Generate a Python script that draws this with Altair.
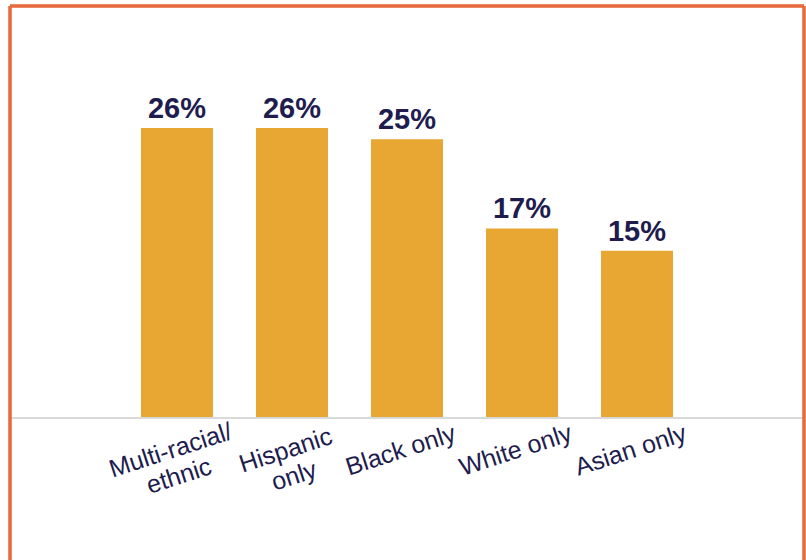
import altair as alt
import pandas as pd

categories = ["Multi-racial/ethnic", "Hispanic only", "Black only", "White only", "Asian only"]
axis_labels = ["Multi-racial/\nethnic", "Hispanic\nonly", "Black only", "White only", "Asian only"]
values = [26, 26, 25, 17, 15]
value_labels = ["26%", "26%", "25%", "17%", "15%"]

df = pd.DataFrame({
    "category": categories,
    "label": axis_labels,
    "value": values,
    "value_label": value_labels,
    "zero": [0] * len(categories),
})

W, H = 794, 554
BAR = "#E8A633"
NAVY = "#211C4E"
BORDER = "#E8693E"

x = alt.X("category:N", sort=categories, axis=None,
          scale=alt.Scale(paddingInner=0.374, paddingOuter=0, range=[131, 663]))
y = alt.Y("value:Q", axis=None,
          scale=alt.Scale(domain=[-12.73, 36.94], nice=False))
y0 = alt.Y("zero:Q", axis=None)

base = alt.Chart(df)

bars = base.mark_bar(color=BAR).encode(x=x, y=y)

vals = base.mark_text(
    font="Liberation Sans", fontSize=29, fontWeight="bold", color=NAVY,
    baseline="alphabetic", align="center", dy=-10
).encode(x=x, y=y, text="value_label:N")

baseline = base.mark_rule(color="#D9D9D9", strokeWidth=2).encode(
    x=alt.value(0), x2=alt.value(W), y=y0
)

cats = base.mark_text(
    font="Liberation Sans", fontSize=25, color=NAVY, align="center",
    baseline="top", angle=342, lineBreak="\n", lineHeight=27,
    xOffset=-10, yOffset=21
).encode(x=x, y=y0, text="label:N")

top_b = base.mark_rule(color=BORDER, strokeWidth=2.5).encode(
    x=alt.value(0), x2=alt.value(W), y=alt.value(0))
left_b = base.mark_rule(color=BORDER, strokeWidth=2.5).encode(
    x=alt.value(0), y=alt.value(0), y2=alt.value(H))
right_b = base.mark_rule(color=BORDER, strokeWidth=2.5).encode(
    x=alt.value(W), y=alt.value(0), y2=alt.value(H))

chart = alt.layer(bars, baseline, vals, cats, top_b, left_b, right_b).properties(
    width=W, height=H,
    padding={"left": 10, "top": 6, "right": 2, "bottom": 0},
    autosize=alt.AutoSizeParams(type="none"),
    background="white",
).configure_view(stroke=None)

chart.save("out.html", embed_options={"renderer": "svg", "actions": False})
